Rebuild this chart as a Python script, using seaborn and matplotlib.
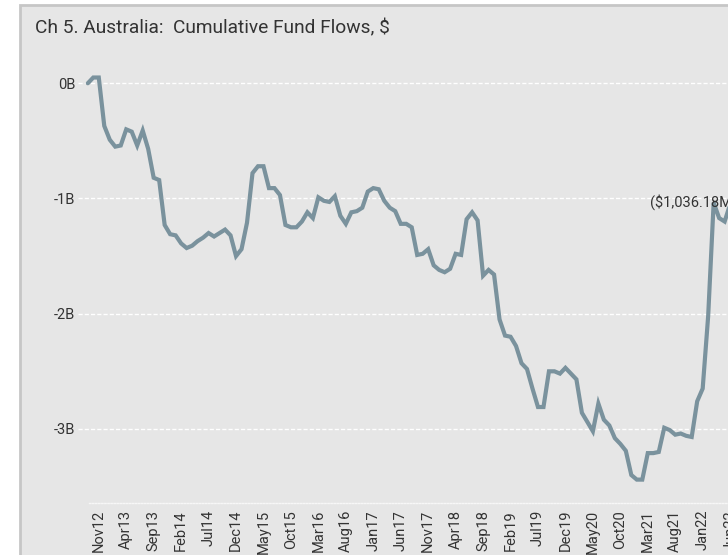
import matplotlib
matplotlib.use("Agg")
import matplotlib.pyplot as plt
import matplotlib.patches as patches
from matplotlib import font_manager
import pandas as pd
import seaborn as sns

# Monthly cumulative fund flows, $ billions, from Sep 2012
start_month = "2012-09"
flows_bn = [
    0.00, 0.05, 0.05, -0.37, -0.49, -0.55, -0.54, -0.40, -0.42, -0.54,
    -0.41, -0.57, -0.82, -0.84, -1.23, -1.31, -1.32, -1.39, -1.43, -1.41,
    -1.37, -1.34, -1.30, -1.33, -1.30, -1.27, -1.32, -1.50, -1.44, -1.21,
    -0.78, -0.72, -0.72, -0.91, -0.91, -0.97, -1.23, -1.25, -1.25, -1.20,
    -1.12, -1.17, -0.99, -1.02, -1.03, -0.98, -1.15, -1.22, -1.12, -1.11,
    -1.08, -0.94, -0.91, -0.92, -1.02, -1.08, -1.11, -1.22, -1.22, -1.25,
    -1.49, -1.48, -1.44, -1.58, -1.62, -1.64, -1.61, -1.48, -1.49, -1.18,
    -1.12, -1.19, -1.67, -1.62, -1.66, -2.05, -2.19, -2.20, -2.28, -2.43,
    -2.48, -2.65, -2.81, -2.81, -2.50, -2.50, -2.52, -2.47, -2.52, -2.57,
    -2.86, -2.94, -3.02, -2.78, -2.92, -2.97, -3.08, -3.13, -3.19, -3.40,
    -3.44, -3.44, -3.21, -3.21, -3.20, -2.99, -3.01, -3.05, -3.04, -3.06,
    -3.07, -2.76, -2.65, -2.02, -1.036, -1.17, -1.20, -1.05, -1.00,
]
tick_labels = ["Nov12", "Apr13", "Sep13", "Feb14", "Jul14", "Dec14", "May15",
               "Oct15", "Mar16", "Aug16", "Jan17", "Jun17", "Nov17", "Apr18",
               "Sep18", "Feb19", "Jul19", "Dec19", "May20", "Oct20", "Mar21",
               "Aug21", "Jan22", "Jun22"]
y_ticks = [0, -1, -2, -3]
y_tick_labels = ["0B", "-1B", "-2B", "-3B"]
label_month = 114
label_text = "($1,036.18M)"

df = pd.DataFrame({
    "month": pd.period_range(start_month, periods=len(flows_bn), freq="M").strftime("%b%y"),
    "flow": flows_bn,
})
df["idx"] = range(len(df))
tick_pos = [int(df.index[df["month"] == t][0]) for t in tick_labels]

sns.set_style("white")
# pick a narrow family if it exists
family = "DejaVu Sans"
for f in ["Liberation Sans Narrow", "Roboto", "DejaVu Sans"]:
    try:
        font_manager.findfont(f, fallback_to_default=False)
        family = f
        break
    except Exception:
        pass
plt.rcParams["font.family"] = [family, "DejaVu Sans"]

bg = "#e6e6e6"
txt = "#333333"
fig = plt.figure(figsize=(7.28, 5.55), dpi=100, facecolor="white")
frame = patches.Rectangle((19.7 / 728, -0.1), 1.2, 1.1 - 4.7 / 555,
                          transform=fig.transFigure, facecolor=bg,
                          edgecolor="#c6c6c6", linewidth=2.0, zorder=-10)
fig.patches.append(frame)

ax = fig.add_axes([78 / 728, 52 / 555, 696 / 728, 443 / 555])
ax.set_facecolor("none")
sns.lineplot(data=df, x="idx", y="flow", ax=ax, color="#7a929d", linewidth=3.0,
             solid_joinstyle="miter", solid_capstyle="round")
ax.set_xlim(-1.785, -1.785 + 696 / 5.49)
ax.set_ylim(-3.643, 0.202)

ax.set_yticks(y_ticks)
ax.set_yticklabels(y_tick_labels, fontsize=10.5, color=txt)
ax.set_xticks(tick_pos)
ax.set_xticklabels(tick_labels, rotation=90, fontsize=10.5, color=txt)
ax.tick_params(axis="y", length=0, pad=2)
ax.tick_params(axis="x", length=0, pad=5)
ax.set_xlabel("")
ax.set_ylabel("")
ax.yaxis.grid(True, color="white", linestyle=(0, (3, 1.5)), linewidth=1.0)
ax.xaxis.grid(False)
for s in ["left", "top", "right"]:
    ax.spines[s].set_visible(False)
ax.spines["bottom"].set_color("#f7f7f7")
ax.spines["bottom"].set_linestyle((0, (1, 1.2)))
ax.spines["bottom"].set_linewidth(1.0)
ax.spines["bottom"].set_bounds(0.2, 130)

ax.annotate(label_text, xy=(label_month, flows_bn[label_month]),
            xytext=(-45.5, 0.5), textcoords="offset points",
            ha="left", va="center", fontsize=10.5, color=txt)

title = fig.text(35 / 728, 1 - 28 / 555, "Ch 5. Australia:  Cumulative Fund Flows, $",
                 ha="left", va="center", fontsize=14, color=txt)
# squeeze the title to the reference width
fig.canvas.draw()
w = title.get_window_extent().width
title.set_fontsize(14 * min(1.0, 357 / w))

fig.savefig("out.png", dpi=100, facecolor="white")
